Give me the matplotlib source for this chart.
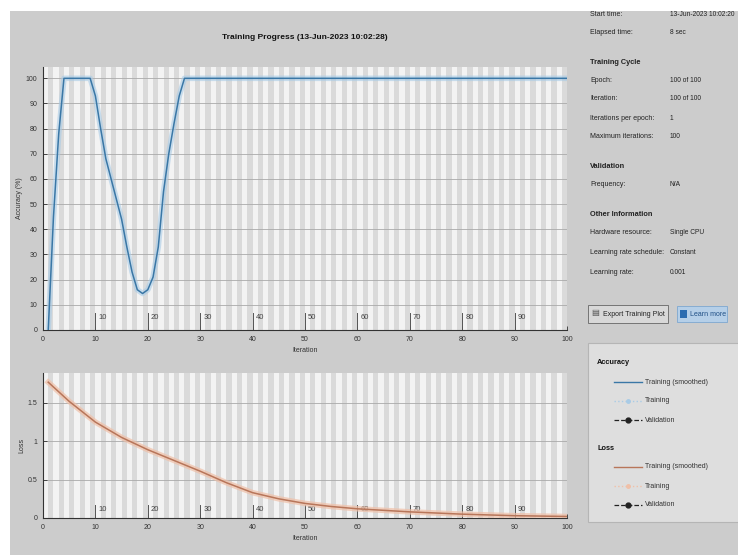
import matplotlib
matplotlib.use("Agg")
import matplotlib.pyplot as plt
from matplotlib.patches import Rectangle
from matplotlib.lines import Line2D

plt.rcParams['font.family'] = ['Liberation Sans', 'DejaVu Sans']

# values
accIter = [1, 2, 3, 4, 9, 10, 11, 12, 13, 14, 15, 16, 17, 18, 19, 20, 21, 22, 23, 24, 25, 26, 27, 100]
accValue = [0, 45, 78, 100, 100, 93, 80, 68, 60, 52, 44, 33, 23, 16, 14.5, 16, 21, 33, 55, 70, 82, 93, 100, 100]
lossIter = [1, 5, 10, 15, 20, 25, 30, 35, 40, 45, 50, 55, 60, 65, 70, 75, 80, 85, 90, 95, 100]
lossValue = [1.77, 1.52, 1.25, 1.05, 0.89, 0.75, 0.61, 0.46, 0.33, 0.25, 0.19, 0.15, 0.12, 0.10,
             0.08, 0.065, 0.05, 0.04, 0.03, 0.025, 0.02]
numEpochs = 100
epochMarks = [10, 20, 30, 40, 50, 60, 70, 80, 90]
xTicks = [0, 10, 20, 30, 40, 50, 60, 70, 80, 90, 100]

infoRows = [
    ("Start time:", "13-Jun-2023 10:02:20", 14, False),
    ("Elapsed time:", "8 sec", 33, False),
    ("Training Cycle", "", 62, True),
    ("Epoch:", "100 of 100", 80, False),
    ("Iteration:", "100 of 100", 99, False),
    ("Iterations per epoch:", "1", 118, False),
    ("Maximum iterations:", "100", 137, False),
    ("Validation", "", 167, True),
    ("Frequency:", "N/A", 185, False),
    ("Other Information", "", 214, True),
    ("Hardware resource:", "Single CPU", 233, False),
    ("Learning rate schedule:", "Constant", 253, False),
    ("Learning rate:", "0.001", 272, False),
]

W, H = 738, 555
bgColor = '#cccccc'
accColor = '#3a77a6'
accRaw = '#a9cbe6'
lossColor = '#b8765a'
lossRaw = '#f0c0a8'


def fx(x):
    return x / W


def fy(y):
    return 1 - y / H


fig = plt.figure(figsize=(W / 100, H / 100), dpi=100, facecolor='white')
fig.patches.append(Rectangle((fx(10), 0), 1, fy(11), transform=fig.transFigure,
                             facecolor=bgColor, edgecolor='none', zorder=-5))


def styleAxes(ax, ymax, yTicks, yTickLabels, ylabel, markY):
    ax.set_facecolor('#dadada')
    for k in range(0, numEpochs, 2):
        ax.axvspan(k, k + 1, color='#f3f3f3', lw=0, zorder=0)
    for t in yTicks:
        ax.axhline(t, color='#a9a9a9', lw=0.6, zorder=1)
    ax.set_xlim(0, 100)
    ax.set_ylim(0, ymax)
    ax.set_xticks(xTicks)
    ax.set_xticklabels([str(t) for t in xTicks], fontsize=5, color='#333333')
    ax.set_yticks(yTicks)
    ax.set_yticklabels(yTickLabels, fontsize=5, color='#333333')
    ax.tick_params(direction='in', length=3, width=0.6, colors='#333333', pad=4)
    for s in ['top', 'right']:
        ax.spines[s].set_visible(False)
    for s in ['left', 'bottom']:
        ax.spines[s].set_color('#333333')
        ax.spines[s].set_linewidth(0.8)
    ax.set_xlabel("Iteration", fontsize=5, color='#333333', labelpad=3)
    ax.set_ylabel(ylabel, fontsize=5, color='#333333', labelpad=2)
    for m in epochMarks:
        ax.plot([m, m], [0, markY * ymax], color='#555555', lw=0.7, zorder=3)
        ax.text(m + 0.6, markY * ymax * 0.95, str(m), fontsize=5.5, color='#444444',
                va='top', ha='left', zorder=3)


# accuracy plot
axTop = fig.add_axes([fx(43), fy(330), (567 - 43) / W, (330 - 67) / H])
styleAxes(axTop, 104.5, list(range(0, 101, 10)), [str(t) for t in range(0, 101, 10)],
          "Accuracy (%)", 0.065)
axTop.plot(accIter, accValue, color=accRaw, lw=4, alpha=0.6, zorder=4, solid_capstyle='butt')
axTop.plot(accIter, accValue, color=accColor, lw=1.1, zorder=5)
axTop.set_title("Training Progress (13-Jun-2023 10:02:28)", fontsize=6, fontweight='bold',
                color='#111111', pad=20)

# loss plot
axBot = fig.add_axes([fx(43), fy(518), (567 - 43) / W, (518 - 373) / H])
styleAxes(axBot, 1.89, [0, 0.5, 1, 1.5], ["0", "0.5", "1", "1.5"], "Loss", 0.09)
axBot.plot(lossIter, lossValue, color=lossRaw, lw=4, alpha=0.7, zorder=4)
axBot.plot(lossIter, lossValue, color=lossColor, lw=1.1, zorder=5)

# info panel on the right
for label, value, y, bold in infoRows:
    fig.text(fx(590), fy(y), label, fontsize=5 if not bold else 5.3,
             fontweight='bold' if bold else 'normal', color='#222222', va='center')
    if value:
        fig.text(fx(670), fy(y), value, fontsize=4.8, color='#222222', va='center')

# buttons
fig.patches.append(Rectangle((fx(588), fy(323)), (668 - 588) / W, 18 / H, transform=fig.transFigure,
                             facecolor='#d8d8d8', edgecolor='#666666', lw=0.6))
fig.text(fx(603), fy(314), "Export Training Plot", fontsize=5, color='#222222', va='center')
fig.text(fx(591), fy(314), "\u25a4", fontsize=6, color='#555555', va='center')
fig.patches.append(Rectangle((fx(677), fy(322)), (727 - 677) / W, 16 / H, transform=fig.transFigure,
                             facecolor='#b5cfe8', edgecolor='#7ea7d0', lw=0.6))
fig.patches.append(Rectangle((fx(680), fy(318)), 7 / W, 8 / H, transform=fig.transFigure,
                             facecolor='#2b6cb0', edgecolor='none'))
fig.text(fx(690), fy(314), "Learn more", fontsize=5, color='#1f4f85', va='center')

# legend panel
fig.patches.append(Rectangle((fx(588), fy(522)), (740 - 588) / W, (522 - 343) / H,
                             transform=fig.transFigure, facecolor='#dedede',
                             edgecolor='#b5b5b5', lw=0.8))
legendRows = [
    ("Accuracy", None, 362),
    ("Training (smoothed)", dict(color=accColor, lw=1.0), 382),
    ("Training", dict(color=accRaw, lw=1.0, ls=':', marker='o', ms=2.5), 401),
    ("Validation", dict(color='#222222', lw=0.9, ls='--', marker='o', ms=3.5), 420),
    ("Loss", None, 448),
    ("Training (smoothed)", dict(color=lossColor, lw=1.0), 467),
    ("Training", dict(color=lossRaw, lw=1.0, ls=':', marker='o', ms=2.5), 486),
    ("Validation", dict(color='#222222', lw=0.9, ls='--', marker='o', ms=3.5), 505),
]
for text, style, y in legendRows:
    if style is None:
        fig.text(fx(597), fy(y), text, fontsize=5.3, fontweight='bold', color='#111111', va='center')
    else:
        fig.lines.append(Line2D([fx(614), fx(628), fx(642)], [fy(y)] * 3, transform=fig.transFigure,
                                markevery=[1], **style))
        fig.text(fx(645), fy(y), text, fontsize=5, color='#333333', va='center')

# white strip along the top edge of the screenshot
fig.patches.append(Rectangle((0, fy(11)), 1, 11 / H + 0.01, transform=fig.transFigure,
                             facecolor='white', edgecolor='none', zorder=20))

fig.savefig("out.png", dpi=100, facecolor='white')
